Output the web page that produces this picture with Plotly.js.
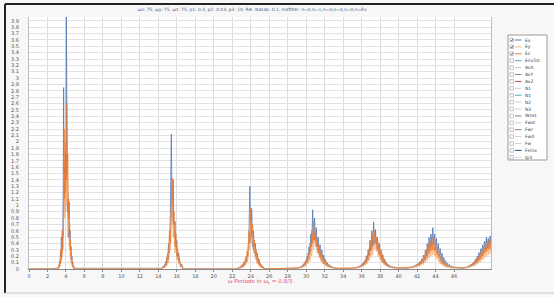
<!DOCTYPE html>
<html><head><meta charset="utf-8">
<script src="https://cdn.plot.ly/plotly-3.0.1.min.js"></script>
<style>html,body{margin:0;padding:0;background:#f7f7f7}#chart{width:554px;height:297px}</style>
</head><body><div id="chart"></div>
<script>
// ---- data ----
const x0 = [0];
const e0 = [0];
const xP1 = [3,3.05,3.1,3.15,3.2,3.25,3.3,3.35,3.4,3.45,3.5,3.55,3.6,3.65,3.7,3.75,3.8,3.85,3.9,3.95,4,4.05,4.1,4.15,4.2,4.25,4.3,4.35,4.4,4.45,4.5,4.55,4.6,4.65,4.7,4.75,4.8,4.85,4.9,4.95,5];
const exP1 = [0,0.01,0.02,0.01,0.04,0.02,0.1,0.05,0.25,0.15,0.5,0.3,0.6,0.35,1.2,2.85,1.0,1.6,0.9,1.8,1.3,3.98,1.5,0.9,1.2,0.5,0.8,1.05,0.4,0.6,0.25,0.35,0.12,0.2,0.06,0.1,0.03,0.04,0.01,0.01,0];
const eyP1 = [0,0,0.01,0.02,0.01,0.04,0.02,0.09,0.05,0.2,0.1,0.3,0.18,0.42,0.3,0.9,1.5,0.8,1.3,0.9,1.5,1.0,1.9,1.1,1.3,0.6,0.8,0.35,0.5,0.2,0.3,0.1,0.15,0.05,0.07,0.02,0.03,0.01,0.01,0,0];
const ezP1 = [0,0.01,0,0.03,0.02,0.07,0.04,0.14,0.08,0.3,0.15,0.45,0.25,0.6,0.5,1.3,2.2,1.1,1.7,1.2,2.0,1.4,2.6,1.5,1.8,0.8,1.1,0.5,0.7,0.3,0.45,0.15,0.25,0.08,0.12,0.03,0.05,0.01,0.02,0,0];

const xP2 = [14.3,14.4,14.5,14.6,14.7,14.8,14.9,15.0,15.1,15.2,15.3,15.4,15.5,15.6,15.7,15.8,15.9,16.0,16.1,16.2,16.3,16.4,16.5,16.6,16.7];
const exP2 = [0,0.01,0.04,0.02,0.08,0.05,0.18,0.1,0.4,0.25,0.9,2.12,0.8,1.4,0.5,0.75,0.3,0.45,0.15,0.25,0.12,0.05,0.08,0.02,0];
const eyP2 = [0,0.01,0.02,0.03,0.02,0.08,0.04,0.18,0.1,0.45,0.3,0.8,1.1,0.5,0.7,0.25,0.4,0.15,0.2,0.08,0.1,0.03,0.04,0.01,0];
const ezP2 = [0,0.02,0.01,0.05,0.03,0.12,0.06,0.25,0.15,0.6,0.4,1.0,1.43,0.7,0.9,0.35,0.55,0.2,0.3,0.1,0.15,0.04,0.06,0.01,0];

const xP3 = [22.5,22.6,22.7,22.8,22.9,23.0,23.1,23.2,23.3,23.4,23.5,23.6,23.7,23.8,23.9,24.0,24.1,24.2,24.3,24.4,24.5,24.6,24.7,24.8,24.9,25.0,25.1,25.2,25.3,25.4,25.5];
const exP3 = [0,0.01,0.02,0.01,0.04,0.02,0.07,0.04,0.12,0.07,0.2,0.12,0.35,0.5,1.3,0.45,0.95,0.35,0.6,0.25,0.4,0.15,0.25,0.08,0.15,0.05,0.08,0.02,0.04,0.01,0];
const eyP3 = [0,0.01,0.01,0.02,0.01,0.04,0.02,0.07,0.04,0.12,0.07,0.2,0.15,0.45,0.3,0.75,0.4,0.55,0.25,0.35,0.15,0.22,0.08,0.12,0.04,0.07,0.02,0.03,0.01,0.01,0];
const ezP3 = [0,0.02,0.01,0.03,0.02,0.06,0.03,0.1,0.05,0.16,0.1,0.28,0.2,0.6,0.4,0.95,0.5,0.7,0.3,0.45,0.2,0.3,0.1,0.18,0.06,0.1,0.03,0.05,0.01,0.02,0];

const xP4 = [29.0,29.1,29.2,29.3,29.4,29.5,29.6,29.7,29.8,29.9,30.0,30.1,30.2,30.3,30.4,30.5,30.6,30.7,30.8,30.9,31.0,31.1,31.2,31.3,31.4,31.5,31.6,31.7,31.8,31.9,32.0,32.1,32.2,32.3,32.4,32.5,32.6,32.7,32.8,32.9,33.0,33.1,33.2,33.3,33.4,33.5];
const exP4 = [0.01,0.02,0.01,0.03,0.02,0.05,0.03,0.08,0.05,0.12,0.08,0.2,0.12,0.35,0.22,0.55,0.35,0.93,0.45,0.8,0.4,0.65,0.3,0.5,0.22,0.38,0.15,0.3,0.1,0.22,0.08,0.15,0.05,0.1,0.04,0.07,0.03,0.05,0.02,0.03,0.01,0.02,0.01,0.01,0.01,0];
const eyP4 = [0,0.01,0.01,0.02,0.02,0.03,0.02,0.05,0.03,0.08,0.05,0.12,0.08,0.2,0.12,0.32,0.2,0.5,0.3,0.55,0.35,0.45,0.25,0.35,0.18,0.28,0.12,0.2,0.08,0.14,0.05,0.1,0.04,0.07,0.03,0.04,0.02,0.03,0.01,0.02,0.01,0.01,0.01,0.01,0,0];
const ezP4 = [0.01,0.01,0.02,0.02,0.04,0.03,0.06,0.04,0.1,0.06,0.15,0.1,0.25,0.16,0.4,0.28,0.6,0.4,0.75,0.45,0.6,0.35,0.5,0.25,0.38,0.18,0.28,0.12,0.2,0.08,0.14,0.06,0.1,0.04,0.06,0.03,0.04,0.02,0.03,0.02,0.02,0.01,0.02,0.01,0.01,0.01];

const xP5 = [35.0,35.1,35.2,35.3,35.4,35.5,35.6,35.7,35.8,35.9,36.0,36.1,36.2,36.3,36.4,36.5,36.6,36.7,36.8,36.9,37.0,37.1,37.2,37.3,37.4,37.5,37.6,37.7,37.8,37.9,38.0,38.1,38.2,38.3,38.4,38.5,38.6,38.7,38.8,38.9,39.0,39.1,39.2,39.3,39.4,39.5,39.6,39.7,39.8,39.9,40.0];
const exP5 = [0.01,0.02,0.01,0.02,0.02,0.03,0.02,0.04,0.03,0.06,0.04,0.09,0.06,0.13,0.08,0.2,0.12,0.3,0.2,0.45,0.28,0.6,0.35,0.74,0.4,0.62,0.32,0.5,0.25,0.4,0.18,0.3,0.12,0.22,0.08,0.15,0.06,0.1,0.04,0.07,0.03,0.05,0.02,0.04,0.02,0.03,0.01,0.02,0.01,0.02,0.01];
const eyP5 = [0.01,0.01,0.01,0.02,0.01,0.02,0.02,0.03,0.02,0.04,0.03,0.06,0.04,0.08,0.06,0.12,0.08,0.18,0.12,0.25,0.18,0.35,0.22,0.45,0.3,0.48,0.28,0.4,0.2,0.32,0.15,0.24,0.1,0.17,0.07,0.12,0.05,0.08,0.03,0.05,0.02,0.04,0.02,0.03,0.01,0.02,0.01,0.02,0.01,0.01,0.01];
const ezP5 = [0.02,0.01,0.02,0.02,0.03,0.02,0.04,0.03,0.05,0.04,0.07,0.05,0.1,0.07,0.15,0.1,0.22,0.15,0.32,0.22,0.45,0.3,0.55,0.38,0.6,0.4,0.5,0.3,0.42,0.22,0.32,0.15,0.25,0.1,0.17,0.07,0.12,0.05,0.08,0.04,0.06,0.03,0.04,0.02,0.03,0.02,0.03,0.02,0.02,0.02,0.02];

const xP6 = [41.0,41.1,41.2,41.3,41.4,41.5,41.6,41.7,41.8,41.9,42.0,42.1,42.2,42.3,42.4,42.5,42.6,42.7,42.8,42.9,43.0,43.1,43.2,43.3,43.4,43.5,43.6,43.7,43.8,43.9,44.0,44.1,44.2,44.3,44.4,44.5,44.6,44.7,44.8,44.9,45.0,45.1,45.2,45.3,45.4,45.5,45.6,45.7,45.8,45.9,46.0,46.1,46.2,46.3,46.4,46.5];
const exP6 = [0.01,0.02,0.02,0.03,0.02,0.04,0.03,0.05,0.04,0.07,0.05,0.09,0.06,0.12,0.08,0.16,0.1,0.22,0.14,0.3,0.2,0.4,0.25,0.5,0.3,0.55,0.35,0.65,0.38,0.55,0.3,0.48,0.25,0.4,0.2,0.32,0.15,0.25,0.1,0.18,0.07,0.13,0.05,0.09,0.04,0.07,0.03,0.05,0.02,0.04,0.02,0.03,0.02,0.03,0.01,0.02];
const eyP6 = [0.01,0.01,0.02,0.01,0.02,0.02,0.03,0.02,0.04,0.03,0.05,0.04,0.06,0.04,0.08,0.06,0.11,0.07,0.15,0.1,0.2,0.13,0.27,0.17,0.33,0.2,0.38,0.22,0.36,0.2,0.3,0.16,0.25,0.12,0.19,0.08,0.14,0.06,0.1,0.04,0.07,0.03,0.05,0.02,0.04,0.02,0.03,0.01,0.02,0.01,0.02,0.01,0.02,0.01,0.01,0.01];
const ezP6 = [0.02,0.02,0.03,0.02,0.03,0.03,0.04,0.03,0.05,0.04,0.07,0.05,0.09,0.06,0.12,0.08,0.16,0.1,0.22,0.14,0.3,0.18,0.38,0.24,0.45,0.28,0.5,0.3,0.48,0.28,0.42,0.22,0.35,0.18,0.28,0.12,0.2,0.08,0.14,0.06,0.1,0.04,0.07,0.03,0.05,0.03,0.04,0.02,0.03,0.02,0.03,0.02,0.03,0.02,0.03,0.02];

const xP7 = [47.0,47.1,47.2,47.3,47.4,47.5,47.6,47.7,47.8,47.9,48.0,48.1,48.2,48.3,48.4,48.5,48.6,48.7,48.8,48.9,49.0,49.1,49.2,49.3,49.4,49.5,49.6,49.7,49.8,49.9,50.0];
const exP7 = [0.01,0.02,0.02,0.03,0.02,0.04,0.03,0.06,0.04,0.08,0.05,0.11,0.07,0.15,0.09,0.2,0.12,0.26,0.16,0.32,0.2,0.38,0.24,0.44,0.28,0.5,0.32,0.48,0.35,0.52,0.38];
const eyP7 = [0.01,0.01,0.02,0.01,0.02,0.02,0.03,0.02,0.04,0.03,0.06,0.04,0.08,0.05,0.11,0.07,0.14,0.09,0.18,0.11,0.22,0.14,0.26,0.17,0.3,0.2,0.33,0.22,0.35,0.24,0.36];
const ezP7 = [0.02,0.02,0.03,0.02,0.04,0.03,0.05,0.04,0.07,0.05,0.09,0.06,0.12,0.08,0.16,0.1,0.2,0.13,0.25,0.16,0.3,0.2,0.35,0.24,0.4,0.27,0.44,0.3,0.45,0.32,0.46];

const seriesNames = ['Ex', 'Ey', 'Ez'];
const xTickVals = [0,2,4,6,8,10,12,14,16,18,20,22,24,26,28,30,32,34,36,38,40,42,44,46];
const yTickVals = [0,0.1,0.2,0.3,0.4,0.5,0.6,0.7,0.8,0.9,1,1.1,1.2,1.3,1.4,1.5,1.6,1.7,1.8,1.9,2,2.1,2.2,2.3,2.4,2.5,2.6,2.7,2.8,2.9,3,3.1,3.2,3.3,3.4,3.5,3.6,3.7,3.8,3.9];
const legendNames = ['Ex','Ey','Ez','EnvTot','AvX','AvY','AvZ','N1','N1','N2','N3','Wnst','Fwst','Fwr','Fwd','Fw','Fsmx','Ip3'];
const legendChecked = [true,true,true,false,false,false,false,false,false,false,false,false,false,false,false,false,false,false];
const titleText = 'ωx: 75, ωy: 75, ωz: 75, p1: 0.3, p2: 0.03, p3: 10, Rel. Nasab: 0.1, Indfilter: n=0,n=1,n=0,n=0,n=0,n=Ex';
const xTitleText = 'ω Periode in ω<sub>z</sub> = 0.8/3';

// ---- assemble ----
const X = [].concat(x0, xP1, xP2, xP3, xP4, xP5, xP6, xP7);
const EX = [].concat(e0, exP1, exP2, exP3, exP4, exP5, exP6, exP7);
const EY = [].concat(e0, eyP1, eyP2, eyP3, eyP4, eyP5, eyP6, eyP7);
const EZ = [].concat(e0, ezP1, ezP2, ezP3, ezP4, ezP5, ezP6, ezP7);

const colEx = '#4f79b8', colEy = '#f5b27a', colEz = '#ea7a32';
const legendColors = [colEx, colEy, colEz, '#4bacc6', '#c8c8c8', '#8b7fb0', '#c0504d', '#d0d0d0', '#4bacc6', '#d0d0d0', '#d0d0d0', '#808080', '#d0d0d0', '#808080', '#d0d0d0', '#d0d0d0', '#1f497d', '#d0d0d0'];

const traces = [
  {x: X, y: EX, name: seriesNames[0], type: 'scatter', mode: 'lines', line: {color: colEx, width: 0.8}},
  {x: X, y: EY, name: seriesNames[1], type: 'scatter', mode: 'lines', line: {color: colEy, width: 0.8}},
  {x: X, y: EZ, name: seriesNames[2], type: 'scatter', mode: 'lines', line: {color: colEz, width: 0.8}}
];

const PL = 29, PR = 491, PT = 17, PB = 269;
function px(v) { return (v - PL) / (PR - PL); }
function py(v) { return (PB - v) / (PB - PT); }

const shapes = [
  {type: 'line', xref: 'paper', yref: 'paper', x0: px(5), x1: px(554), y0: py(4), y1: py(4), line: {color: '#222', width: 2}},
  {type: 'line', xref: 'paper', yref: 'paper', x0: px(5), x1: px(5), y0: py(4), y1: py(293), line: {color: '#222', width: 2}},
  {type: 'line', xref: 'paper', yref: 'paper', x0: px(5), x1: px(554), y0: py(293), y1: py(293), line: {color: '#c8c8c8', width: 1}},
  {type: 'rect', xref: 'paper', yref: 'paper', x0: px(508), x1: px(547), y0: py(35), y1: py(160), fillcolor: '#ffffff', line: {color: '#9a9a9a', width: 1}}
];
const annotations = [
  {xref: 'paper', yref: 'paper', x: 0.5, y: py(281), text: xTitleText, showarrow: false, xanchor: 'center', yanchor: 'middle', font: {family: 'DejaVu Sans', size: 5.5, color: '#e0507a'}}
];
legendNames.forEach(function (n, i) {
  const ry = 40 + i * 6.9;
  shapes.push({type: 'rect', xref: 'paper', yref: 'paper', x0: px(510), x1: px(513.5), y0: py(ry - 1.8), y1: py(ry + 1.8), fillcolor: '#ffffff', line: {color: '#a0a0a0', width: 0.6}});
  shapes.push({type: 'line', xref: 'paper', yref: 'paper', x0: px(515), x1: px(521.5), y0: py(ry), y1: py(ry), line: {color: legendColors[i], width: 1}});
  annotations.push({xref: 'paper', yref: 'paper', x: px(523), y: py(ry), text: n, showarrow: false, xanchor: 'left', yanchor: 'middle', font: {family: 'DejaVu Sans', size: 4.5, color: '#444'}});
  if (legendChecked[i]) {
    shapes.push({type: 'path', xref: 'paper', yref: 'paper',
      path: 'M ' + px(510.6) + ' ' + py(ry) + ' L ' + px(511.6) + ' ' + py(ry + 1.1) + ' L ' + px(513) + ' ' + py(ry - 1.2),
      line: {color: '#333', width: 0.7}});
  }
});

const layout = {
  width: 554, height: 297,
  margin: {l: PL, r: 554 - PR, t: PT, b: 297 - PB, pad: 0},
  paper_bgcolor: '#f7f7f7',
  plot_bgcolor: '#ffffff',
  showlegend: false,
  font: {family: 'DejaVu Sans', size: 5, color: '#555'},
  title: {text: titleText, font: {family: 'DejaVu Sans', size: 4.4, color: '#4a5f8a'}, xref: 'paper', x: px(252), xanchor: 'center', yref: 'container', y: 1 - 9 / 297, yanchor: 'middle'},
  xaxis: {
    range: [0, 50], tickvals: xTickVals, showgrid: true, gridcolor: '#dcdcdc', gridwidth: 1,
    zeroline: false, showline: true, linecolor: '#888', linewidth: 1, mirror: false,
    ticks: 'outside', ticklen: 2, tickcolor: '#888',
    tickfont: {family: 'DejaVu Sans', size: 5, color: '#555'}
  },
  yaxis: {
    range: [0, 3.96], tickvals: yTickVals, showgrid: true, gridcolor: '#e2e2e2', gridwidth: 1,
    zeroline: false, showline: true, linecolor: '#bdbdbd', linewidth: 1, mirror: true,
    ticks: '', ticklabelstandoff: 8,
    tickfont: {family: 'DejaVu Sans', size: 5, color: '#555'}
  },
  shapes: shapes,
  annotations: annotations
};

Plotly.newPlot('chart', traces, layout, {displayModeBar: false, staticPlot: true});
</script></body></html>
